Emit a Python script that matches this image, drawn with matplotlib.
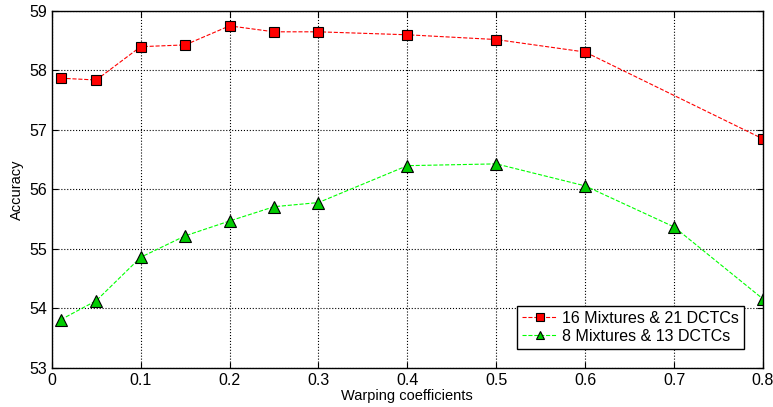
import matplotlib
matplotlib.use('Agg')
import matplotlib.pyplot as plt

plt.rcParams['font.family'] = ['Liberation Sans', 'DejaVu Sans']

warp = [0.01, 0.05, 0.1, 0.15, 0.2, 0.25, 0.3, 0.4, 0.5, 0.6, 0.8]
acc_16_21 = [57.87, 57.84, 58.40, 58.43, 58.75, 58.65, 58.65, 58.60, 58.52, 58.31, 56.85]

warp_8 = [0.01, 0.05, 0.1, 0.15, 0.2, 0.25, 0.3, 0.4, 0.5, 0.6, 0.7, 0.8]
acc_8_13 = [53.81, 54.13, 54.86, 55.22, 55.47, 55.71, 55.78, 56.40, 56.43, 56.06, 55.37, 54.16]

fig = plt.figure(figsize=(7.73, 4.07), dpi=100)
ax = fig.add_axes([0.067, 0.096, 0.92, 0.877])

ax.plot(warp, acc_16_21, '--', color='red', lw=0.8, marker='s', ms=7,
        mfc='red', mec='black', mew=0.8, label='16 Mixtures & 21 DCTCs')
ax.plot(warp_8, acc_8_13, '--', color='#00ff00', lw=0.8, marker='^', ms=8,
        mfc='#00cc00', mec='black', mew=0.8, label='8 Mixtures & 13 DCTCs')

ax.set_xlim(0, 0.8)
ax.set_ylim(53, 59)
ax.set_xticks([0, 0.1, 0.2, 0.3, 0.4, 0.5, 0.6, 0.7, 0.8])
ax.set_xticklabels(['0', '0.1', '0.2', '0.3', '0.4', '0.5', '0.6', '0.7', '0.8'])
ax.set_yticks(range(53, 60))
ax.tick_params(direction='in', top=True, right=True, labelsize=11.5, length=4)
ax.grid(True, color='black', linestyle=':', linewidth=0.8)
for s in ax.spines.values():
    s.set_linewidth(1.0)

ax.set_xlabel('Warping coefficients', fontsize=10.5, labelpad=1)
ax.set_ylabel('Accuracy', fontsize=10.5, labelpad=4)

leg = ax.legend(loc='lower right', fontsize=11.5, fancybox=False, framealpha=1,
                edgecolor='black', borderaxespad=1.2, handlelength=2.2,
                handletextpad=0.3, borderpad=0.3, labelspacing=0.2,
                markerscale=0.8)
leg.get_frame().set_linewidth(1.0)

fig.savefig('out.png', dpi=100)
